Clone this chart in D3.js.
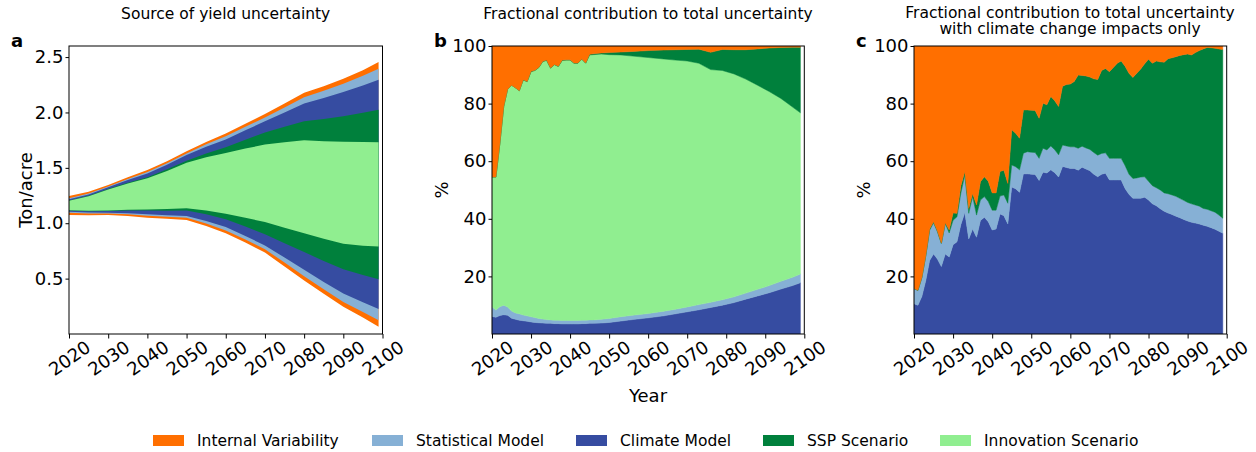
<!DOCTYPE html>
<html>
<head>
<meta charset="utf-8">
<script src="https://cdn.jsdelivr.net/npm/d3@7"></script>
<style>
  body { margin: 0; background: #fff; }
  text { font-family: "DejaVu Sans", sans-serif; }
</style>
</head>
<body>
<div id="chart"></div>
<script>
// ---- data ----
const seriesNames = ["Internal Variability", "Statistical Model", "Climate Model", "SSP Scenario", "Innovation Scenario"];
const seriesColors = ["#ff6f00", "#86b0d5", "#364ca1", "#00803c", "#90ee90"];

// panel a: centre line and half-widths of each band (ton/acre)
const yearsA = [2020, 2025, 2030, 2035, 2040, 2045, 2050, 2055, 2060, 2065, 2070, 2075, 2080, 2085, 2090, 2095, 2099];
const centerA = [1.160, 1.178, 1.210, 1.240, 1.265, 1.300, 1.340, 1.355, 1.360, 1.362, 1.360, 1.345, 1.330, 1.300, 1.275, 1.265, 1.260];
const innovA = [0.042, 0.065, 0.095, 0.118, 0.140, 0.172, 0.205, 0.240, 0.275, 0.312, 0.350, 0.385, 0.420, 0.440, 0.460, 0.468, 0.470];
const sspA = [0.003, 0.004, 0.005, 0.007, 0.010, 0.015, 0.020, 0.035, 0.050, 0.080, 0.110, 0.140, 0.170, 0.200, 0.230, 0.265, 0.295];
const climA = [0.012, 0.013, 0.015, 0.025, 0.035, 0.042, 0.050, 0.060, 0.070, 0.085, 0.100, 0.130, 0.160, 0.190, 0.220, 0.245, 0.270];
const statA = [0.008, 0.008, 0.007, 0.010, 0.012, 0.013, 0.015, 0.022, 0.030, 0.032, 0.035, 0.045, 0.058, 0.065, 0.075, 0.088, 0.100];
const intA = [0.020, 0.016, 0.013, 0.015, 0.018, 0.018, 0.020, 0.022, 0.025, 0.028, 0.030, 0.035, 0.040, 0.042, 0.045, 0.050, 0.060];

// panel b: fractional contribution (%)
const yearsB = [2020, 2021, 2022, 2023, 2024, 2025, 2026, 2027, 2028, 2029, 2030, 2031, 2032, 2033, 2034, 2035, 2036, 2037, 2038, 2039,
  2040, 2041, 2042, 2043, 2044, 2045, 2046, 2048, 2050, 2053, 2056, 2060, 2064, 2067, 2070, 2073, 2076, 2079, 2082, 2085,
  2088, 2091, 2094, 2097, 2099];
const climB = [6.1, 5.8, 6.4, 6.7, 6.5, 5.5, 5.1, 4.8, 4.6, 4.4, 4.2, 4.0, 3.9, 3.8, 3.7, 3.7, 3.6, 3.6, 3.5, 3.5,
  3.5, 3.5, 3.5, 3.6, 3.6, 3.7, 3.7, 3.8, 4.0, 4.5, 5.0, 5.6, 6.3, 7.0, 7.7, 8.4, 9.2, 10.0, 10.9, 12.1,
  13.2, 14.3, 15.6, 16.8, 17.8];
const statB = [3.4, 2.5, 3.1, 3.3, 2.9, 2.5, 2.2, 2.2, 2.0, 1.9, 1.8, 1.7, 1.5, 1.4, 1.3, 1.2, 1.2, 1.2, 1.2, 1.2,
  1.2, 1.2, 1.2, 1.2, 1.2, 1.2, 1.2, 1.3, 1.4, 1.5, 1.5, 1.5, 1.6, 1.6, 1.7, 1.8, 1.8, 1.9, 2.0, 2.1,
  2.3, 2.5, 2.7, 2.9, 3.0];
const innovB = [45.0, 46.2, 56.5, 69.0, 75.6, 78.4, 78.2, 77.5, 81.6, 81.3, 85.1, 85.8, 87.1, 89.4, 90.0, 87.4, 88.7, 88.1, 90.3, 90.4,
  90.4, 89.3, 89.3, 90.6, 89.2, 92.0, 92.1, 92.1, 91.6, 90.9, 90.0, 88.9, 87.6, 86.5, 85.4, 83.8, 80.8, 79.6, 77.4, 74.3,
  70.9, 67.4, 63.5, 59.1, 56.0];
const sspB = [0, 0, 0, 0, 0, 0, 0, 0, 0.1, 0.1, 0.1, 0.1, 0.1, 0.1, 0.1, 0.1, 0.1, 0.1, 0.1, 0.1,
  0.1, 0.1, 0.1, 0.1, 0.1, 0.2, 0.3, 0.4, 0.7, 1.0, 1.6, 2.4, 3.1, 3.6, 4.0, 4.9, 6.0, 7.3, 8.4, 10.2,
  12.6, 15.1, 17.7, 20.8, 22.8];
const intB = [45.5, 45.5, 34.0, 21.0, 15.0, 13.6, 14.5, 15.5, 11.7, 12.3, 8.8, 8.4, 7.4, 5.3, 4.9, 7.6, 6.4, 7.0, 4.9, 4.8,
  4.8, 5.9, 5.9, 4.5, 5.9, 2.9, 2.7, 2.4, 2.3, 2.1, 1.9, 1.6, 1.4, 1.3, 1.2, 1.1, 2.2, 1.2, 1.3, 1.3,
  1.0, 0.7, 0.5, 0.4, 0.4];

// panel c: climate change impacts only (%), one value per year 2020-2099
const yearsC = d3.range(2020, 2100);
const climC = [10.5, 10.0, 13.0, 18.5, 25.5, 27.8, 26.0, 23.4, 27.8, 26.7, 31.0, 32.0, 38.0, 42.2, 33.0, 36.5, 33.6, 39.4, 40.5, 39.0,
  36.1, 36.5, 41.7, 41.1, 38.2, 51.0, 50.4, 49.2, 55.6, 55.6, 55.5, 55.4, 53.3, 56.2, 55.9, 57.0, 56.0, 54.5, 58.2, 57.8,
  57.5, 57.5, 56.9, 57.9, 57.3, 56.7, 55.5, 54.6, 55.5, 55.8, 53.5, 53.5, 53.5, 53.5, 50.5, 48.5, 47.1, 47.1, 47.1, 47.5,
  46.5, 45.2, 44.5, 43.5, 42.6, 42.0, 41.5, 40.9, 40.4, 39.8, 39.2, 38.8, 38.5, 38.2, 37.8, 37.4, 36.9, 36.4, 35.7, 35.0];
const statC = [5.2, 5.1, 6.5, 8.5, 10.5, 10.8, 9.5, 8.0, 10.6, 8.4, 8.5, 8.7, 11.0, 13.0, 8.9, 11.2, 7.7, 7.1, 7.2, 7.0,
  6.9, 6.5, 6.2, 7.2, 7.2, 7.7, 7.7, 7.8, 7.2, 7.7, 7.6, 7.6, 7.7, 8.3, 8.0, 8.3, 8.0, 7.7, 7.4, 7.5,
  7.5, 7.5, 7.6, 7.3, 7.3, 7.4, 7.5, 7.5, 7.2, 7.1, 7.5, 7.5, 7.5, 7.5, 8.0, 7.0, 6.9, 7.1, 7.4, 7.1,
  6.5, 6.3, 6.3, 6.5, 6.4, 6.7, 6.8, 6.9, 6.7, 6.6, 6.5, 6.4, 6.3, 6.2, 5.8, 5.9, 5.9, 5.9, 5.6, 5.2];
const sspC = [0.1, 0.1, 0.1, 0.2, 0.5, 0.4, 0.3, 0.2, 0.2, 1.0, 2.5, 1.2, 2.5, 1.2, 1.7, 1.1, 3.5, 6.4, 6.9, 7.0,
  6.0, 6.0, 8.5, 8.6, 6.9, 12.2, 11.6, 11.0, 15.0, 14.5, 14.6, 14.6, 13.9, 15.6, 15.7, 17.2, 17.0, 16.8, 20.4, 21.3,
  21.8, 22.7, 25.4, 24.6, 25.0, 25.1, 25.6, 26.3, 28.8, 29.3, 30.1, 31.5, 33.0, 33.8, 34.5, 35.0, 35.1, 36.3, 37.5, 39.2,
  42.4, 42.5, 44.0, 44.5, 45.4, 46.9, 47.6, 48.5, 49.6, 50.6, 51.5, 51.7, 52.9, 54.0, 55.4, 56.2, 56.6, 56.9, 57.7, 58.6];
const intC = [84.2, 84.8, 80.4, 72.8, 63.5, 61.0, 64.2, 68.4, 61.4, 63.9, 58.0, 58.1, 48.5, 43.6, 56.4, 51.2, 55.2, 47.1, 45.4, 47.0,
  51.0, 51.0, 43.6, 43.1, 47.7, 29.1, 30.3, 32.0, 22.2, 22.2, 22.3, 22.4, 25.1, 19.9, 20.4, 17.5, 19.0, 21.0, 14.0, 13.4,
  13.2, 12.3, 10.1, 10.2, 10.4, 10.8, 11.4, 11.6, 8.5, 7.8, 8.9, 7.5, 6.0, 5.2, 7.0, 9.5, 10.9, 9.5, 8.0, 6.2,
  4.6, 6.0, 5.2, 5.5, 5.6, 4.4, 4.1, 3.7, 3.3, 3.0, 2.8, 3.1, 2.3, 1.6, 1.0, 0.5, 0.6, 0.8, 1.0, 1.2];

const xTicks = [2020, 2030, 2040, 2050, 2060, 2070, 2080, 2090, 2100];

// ---- layout ----
const W = 1256, H = 452;
const plotTop = 46, plotBottom = 334;
const color = {};
seriesNames.forEach((n, i) => color[n] = seriesColors[i]);

const svg = d3.select("#chart").append("svg")
  .attr("width", W)
  .attr("height", H)
  .style("background", "#fff");

function makePanel(id, left, right, yDomain, yTicks, yFmt) {
  const x = d3.scaleLinear().domain([2020, 2100]).range([left, right]);
  const y = d3.scaleLinear().domain(yDomain).range([plotBottom, plotTop]);
  svg.append("clipPath").attr("id", "clip" + id)
    .append("rect").attr("x", left).attr("y", plotTop).attr("width", right - left).attr("height", plotBottom - plotTop);
  const plot = svg.append("g").attr("clip-path", `url(#clip${id})`);
  const axes = svg.append("g");
  const finish = () => {
    const xa = axes.append("g")
      .attr("transform", `translate(0,${plotBottom})`)
      .call(d3.axisBottom(x).tickValues(xTicks).tickFormat(d3.format("d")).tickSize(4.5));
    xa.selectAll("text")
      .attr("y", null).attr("dy", null)
      .attr("text-anchor", "middle")
      .attr("dominant-baseline", "central")
      .attr("transform", "translate(0,24) rotate(-35)");
    const ya = axes.append("g")
      .attr("transform", `translate(${left},0)`)
      .call(d3.axisLeft(y).tickValues(yTicks).tickFormat(yFmt).tickSize(3.5).tickPadding(2));
    [xa, ya].forEach(a => {
      a.select(".domain").remove();
      a.selectAll("text").attr("font-size", 18).attr("fill", "#000");
      a.selectAll("line").attr("stroke", "#000");
    });
    axes.append("rect")
      .attr("x", left).attr("y", plotTop)
      .attr("width", right - left).attr("height", plotBottom - plotTop)
      .attr("fill", "none").attr("stroke", "#000").attr("stroke-width", 1);
  };
  return { x, y, plot, finish };
}

// ---- panel a ----
const pa = makePanel("a", 69, 382.5, [0, 2.6], [0.5, 1.0, 1.5, 2.0, 2.5], d3.format(".1f"));
const rowsA = yearsA.map((yr, i) => ({
  year: yr, c: centerA[i], innov: innovA[i], ssp: sspA[i], clim: climA[i], stat: statA[i], int: intA[i]
}));
// bands from outermost to innermost
const bandsA = [
  ["Internal Variability", d => d.innov + d.ssp + d.clim + d.stat + d.int],
  ["Statistical Model", d => d.innov + d.ssp + d.clim + d.stat],
  ["Climate Model", d => d.innov + d.ssp + d.clim],
  ["SSP Scenario", d => d.innov + d.ssp],
  ["Innovation Scenario", d => d.innov]
];
bandsA.forEach(([name, half]) => {
  pa.plot.append("path")
    .datum(rowsA)
    .attr("fill", color[name])
    .attr("d", d3.area()
      .x(d => pa.x(d.year))
      .y0(d => pa.y(d.c - half(d)))
      .y1(d => pa.y(d.c + half(d))));
});
pa.finish();

// ---- stacked panels b, c ----
function drawStack(p, rows, keys) {
  const stack = d3.stack().keys(keys)(rows);
  p.plot.selectAll("path.layer")
    .data(stack)
    .join("path")
    .attr("class", "layer")
    .attr("fill", d => color[d.key])
    .attr("stroke", d => color[d.key])
    .attr("stroke-width", 0.5)
    .attr("d", d3.area()
      .x(d => p.x(d.data.year))
      .y0(d => p.y(d[0]))
      .y1(d => p.y(d[1])));
}

const pctTicks = [20, 40, 60, 80, 100];
const pb = makePanel("b", 492, 804.3, [0, 100], pctTicks, d3.format("d"));
const rowsB = yearsB.map((yr, i) => ({
  year: yr,
  "Climate Model": climB[i], "Statistical Model": statB[i], "Innovation Scenario": innovB[i],
  "SSP Scenario": sspB[i], "Internal Variability": intB[i]
}));
drawStack(pb, rowsB, ["Climate Model", "Statistical Model", "Innovation Scenario", "SSP Scenario", "Internal Variability"]);
pb.finish();

const pc = makePanel("c", 914, 1226.7, [0, 100], pctTicks, d3.format("d"));
const rowsC = yearsC.map((yr, i) => ({
  year: yr,
  "Climate Model": climC[i], "Statistical Model": statC[i],
  "SSP Scenario": sspC[i], "Internal Variability": intC[i]
}));
drawStack(pc, rowsC, ["Climate Model", "Statistical Model", "SSP Scenario", "Internal Variability"]);
pc.finish();

// ---- titles, labels ----
const txt = (x, y, s, size, opts = {}) => svg.append("text")
  .attr("x", x).attr("y", y).text(s)
  .attr("font-size", size)
  .attr("text-anchor", opts.anchor || "middle")
  .attr("font-weight", opts.weight || "normal")
  .attr("fill", "#000");

txt(225.7, 19, "Source of yield uncertainty", 15.5);
txt(648, 19, "Fractional contribution to total uncertainty", 15.5);
txt(1070, 17.5, "Fractional contribution to total uncertainty", 15.5);
txt(1070, 33.5, "with climate change impacts only", 15.5);

txt(11, 47, "a", 18, { anchor: "start", weight: "bold" });
txt(434, 47, "b", 18, { anchor: "start", weight: "bold" });
txt(856, 47, "c", 18, { anchor: "start", weight: "bold" });

txt(648, 402, "Year", 18);

[[32, "Ton/acre"], [448, "%"], [870, "%"]].forEach(([x, s]) => {
  svg.append("text")
    .attr("transform", `translate(${x},190) rotate(-90)`)
    .attr("text-anchor", "middle")
    .attr("font-size", 18)
    .attr("fill", "#000")
    .text(s);
});

// ---- legend ----
const legendX = [153, 372, 576, 763, 940];
const legend = svg.append("g").selectAll("g")
  .data(seriesNames)
  .join("g")
  .attr("transform", (d, i) => `translate(${legendX[i]},435)`);
legend.append("rect")
  .attr("width", 31).attr("height", 11)
  .attr("fill", d => color[d]);
legend.append("text")
  .attr("x", 44).attr("y", 11)
  .attr("font-size", 15.5)
  .attr("fill", "#000")
  .text(d => d);
</script>
</body>
</html>
